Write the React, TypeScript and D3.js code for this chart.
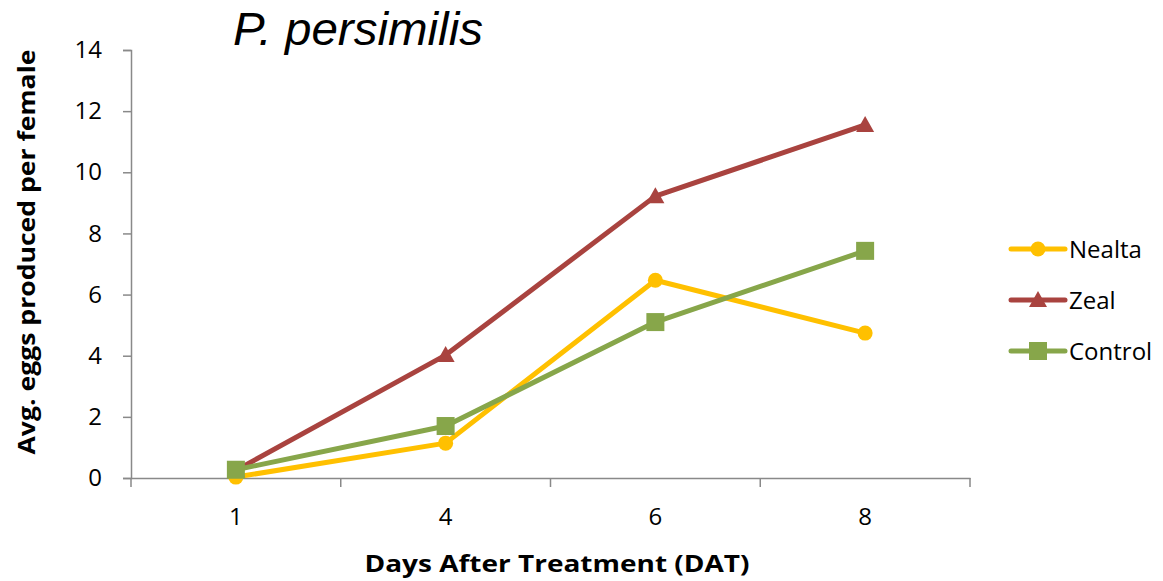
import React, { useEffect, useRef } from 'react';
import * as d3 from 'd3';

const days = ['1', '4', '6', '8'];
const nealta = [0.03, 1.14, 6.47, 4.74];
const zeal = [0.25, 4.02, 9.22, 11.55];
const control = [0.27, 1.7, 5.1, 7.43];
const yTicks = [0, 2, 4, 6, 8, 10, 12, 14];

const seriesList = [
  { name: 'Nealta', values: nealta, color: '#FFC000', marker: 'circle' },
  { name: 'Zeal', values: zeal, color: '#A9433F', marker: 'triangle' },
  { name: 'Control', values: control, color: '#87A64A', marker: 'square' },
];

const FONT = '"Open Sans", Lato, sans-serif';

const App: React.FC = () => {
  const ref = useRef<SVGSVGElement>(null);

  useEffect(() => {
    if (!ref.current) return;
    const svg = d3.select(ref.current);
    svg.selectAll('*').remove();

    const left = 131, right = 970, top = 50, bottom = 478;

    const x = d3.scaleBand<string>().domain(days).range([left, right]);
    const y = d3.scaleLinear().domain([0, 14]).range([bottom, top]);

    // y axis
    const yAxis = svg.append('g')
      .attr('transform', `translate(${left},0)`)
      .call(d3.axisLeft(y).tickValues(yTicks).tickSize(8).tickPadding(21).tickFormat(d3.format('d')));
    yAxis.attr('font-size', null).attr('font-family', null);
    yAxis.select('.domain').attr('stroke', '#898989').attr('stroke-width', 1.5);
    yAxis.selectAll('.tick line').attr('stroke', '#898989').attr('stroke-width', 1.5);
    yAxis.selectAll('text').style('font-size', '24px').style('font-family', FONT).attr('fill', '#000');

    // x axis
    const xAxis = svg.append('g')
      .attr('transform', `translate(0,${bottom})`)
      .call(d3.axisBottom(x).tickSize(0).tickPadding(30));
    xAxis.attr('font-size', null).attr('font-family', null);
    xAxis.select('.domain').attr('stroke', '#898989').attr('stroke-width', 1.5);
    xAxis.selectAll('text').style('font-size', '24px').style('font-family', FONT).attr('fill', '#000');
    const bounds = days.map(d => x(d) as number).concat([right]);
    svg.append('g').selectAll('line').data(bounds).join('line')
      .attr('x1', d => d).attr('x2', d => d)
      .attr('y1', bottom).attr('y2', bottom + 9)
      .attr('stroke', '#898989').attr('stroke-width', 1.5);

    const cx = (d: string) => (x(d) as number) + x.bandwidth() / 2;

    const line = d3.line<number>()
      .x((_, i) => cx(days[i]))
      .y(v => y(v));

    const drawMarker = (g: any, kind: string, px: number, py: number, color: string) => {
      if (kind === 'circle') {
        g.append('circle').attr('cx', px).attr('cy', py).attr('r', 7.5).attr('fill', color);
      } else if (kind === 'square') {
        g.append('rect').attr('x', px - 9).attr('y', py - 9).attr('width', 18).attr('height', 18).attr('fill', color);
      } else {
        g.append('path')
          .attr('d', `M${px},${py - 9}L${px + 9},${py + 7}L${px - 9},${py + 7}Z`)
          .attr('fill', color);
      }
    };

    seriesList.forEach(s => {
      const g = svg.append('g');
      g.append('path')
        .datum(s.values)
        .attr('fill', 'none')
        .attr('stroke', s.color)
        .attr('stroke-width', 5)
        .attr('stroke-linejoin', 'round')
        .attr('stroke-linecap', 'round')
        .attr('d', line as any);
      s.values.forEach((v, i) => drawMarker(g, s.marker, cx(days[i]), y(v), s.color));
    });

    // legend
    const legend = svg.append('g');
    seriesList.forEach((s, i) => {
      const ly = 249 + i * 51;
      legend.append('line')
        .attr('x1', 1011).attr('x2', 1065).attr('y1', ly).attr('y2', ly)
        .attr('stroke', s.color).attr('stroke-width', 5).attr('stroke-linecap', 'round');
      drawMarker(legend, s.marker, 1038, ly, s.color);
      legend.append('text')
        .attr('x', 1069).attr('y', ly + 9)
        .style('font-size', '24px').style('font-family', FONT)
        .text(s.name);
    });

    // title
    svg.append('text')
      .attr('x', 233).attr('y', 45)
      .attr('textLength', 250).attr('lengthAdjust', 'spacingAndGlyphs')
      .style('font-size', '46px')
      .style('font-style', 'italic')
      .style('font-family', '"Liberation Sans", Arial, sans-serif')
      .text('P. persimilis');

    // axis titles
    svg.append('text')
      .attr('x', 557).attr('y', 572)
      .attr('text-anchor', 'middle')
      .attr('textLength', 385).attr('lengthAdjust', 'spacingAndGlyphs')
      .style('font-size', '24px').style('font-weight', 'bold').style('font-family', FONT)
      .text('Days After Treatment (DAT)');

    svg.append('text')
      .attr('transform', `translate(35,252) rotate(-90)`)
      .attr('text-anchor', 'middle')
      .attr('textLength', 405).attr('lengthAdjust', 'spacingAndGlyphs')
      .style('font-size', '24px').style('font-weight', 'bold').style('font-family', FONT)
      .text('Avg. eggs produced per female');
  }, []);

  return <svg ref={ref} width={1163} height={581} style={{ display: 'block', position: 'absolute', left: 0, top: 0, background: '#fff' }} />;
};

export default App;
